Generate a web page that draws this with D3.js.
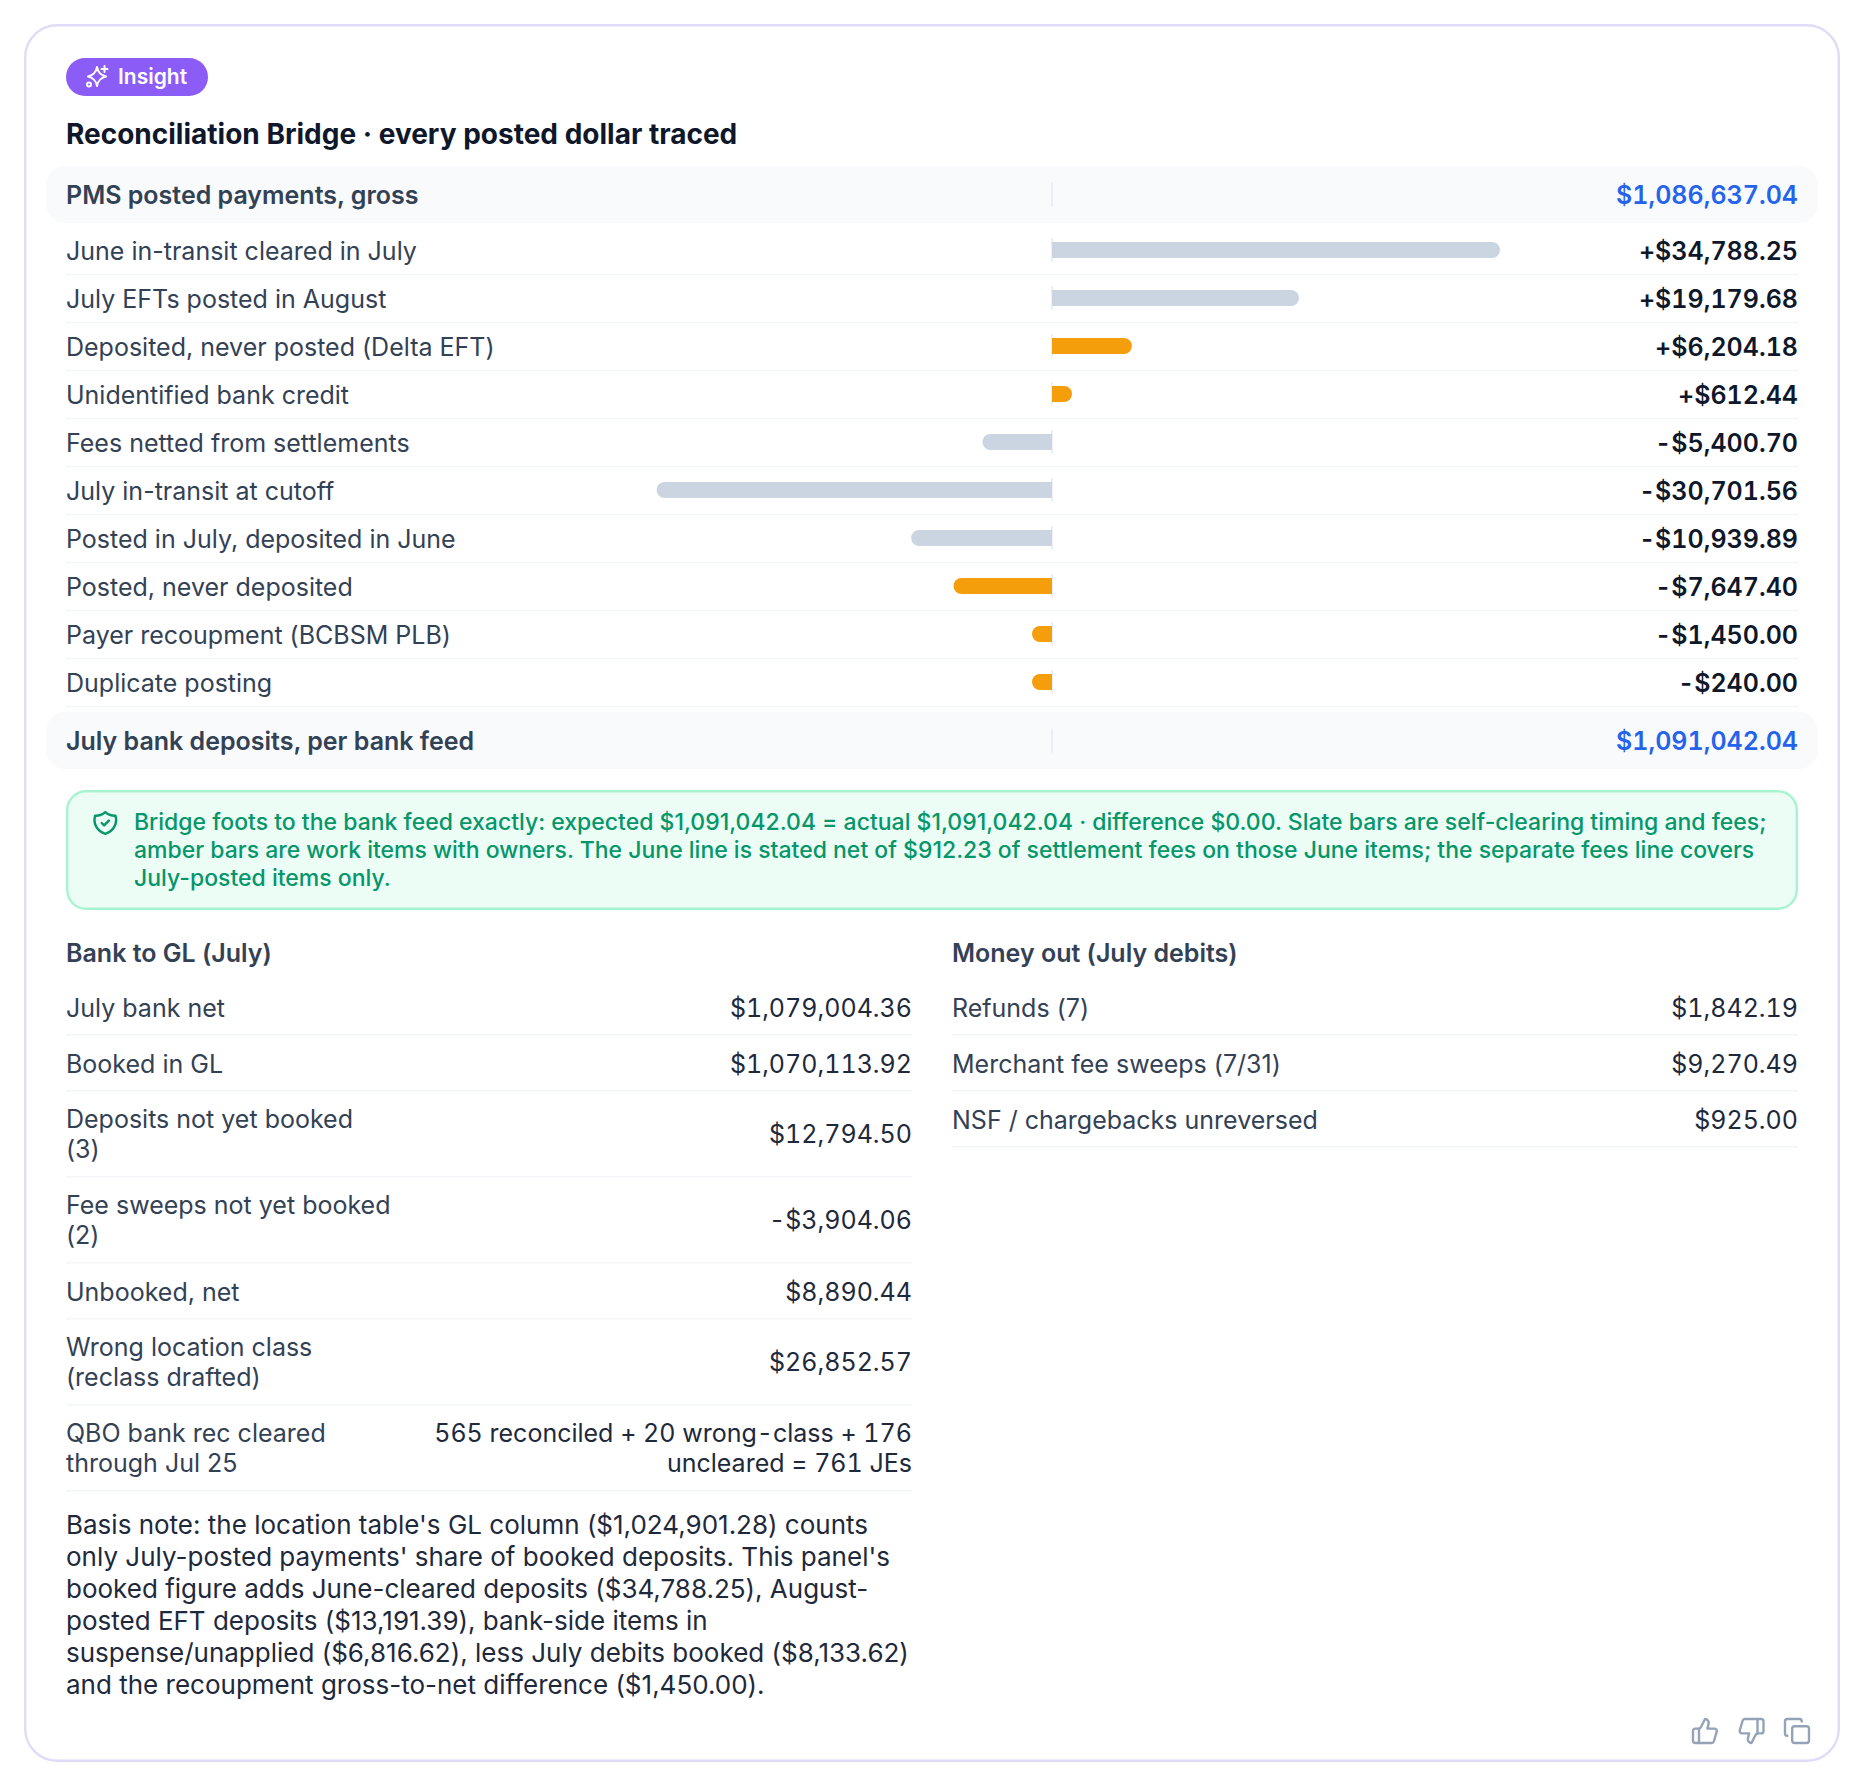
<!DOCTYPE html>
<html><head><meta charset="utf-8">
<script src="https://cdn.jsdelivr.net/npm/d3@7/dist/d3.min.js"></script>
<style>
html,body{margin:0;padding:0;background:#fff}
svg{display:block}
text{font-family:Inter,sans-serif;font-feature-settings:"calt" 0}
.tn{font-variant-numeric:tabular-nums}
</style></head><body>
<div id="chart"></div>
<script>
const badgeText = "Insight";
const titleText = "Reconciliation Bridge · every posted dollar traced";
const startLabel = "PMS posted payments, gross";
const startValue = 1086637.04;
const endLabel = "July bank deposits, per bank feed";
const endValue = 1091042.04;
const bridgeLabels = ["June in-transit cleared in July","July EFTs posted in August","Deposited, never posted (Delta EFT)","Unidentified bank credit","Fees netted from settlements","July in-transit at cutoff","Posted in July, deposited in June","Posted, never deposited","Payer recoupment (BCBSM PLB)","Duplicate posting"];
const bridgeValues = [34788.25,19179.68,6204.18,612.44,-5400.70,-30701.56,-10939.89,-7647.40,-1450.00,-240.00];
const bridgeKinds = ["timing","timing","work","work","timing","timing","timing","work","work","work"];
const noteLines = ["Bridge foots to the bank feed exactly: expected $1,091,042.04 = actual $1,091,042.04 · difference $0.00. Slate bars are self-clearing timing and fees;","amber bars are work items with owners. The June line is stated net of $912.23 of settlement fees on those June items; the separate fees line covers","July-posted items only."];
const leftTitle = "Bank to GL (July)";
const leftLabels = [["July bank net"],["Booked in GL"],["Deposits not yet booked","(3)"],["Fee sweeps not yet booked","(2)"],["Unbooked, net"],["Wrong location class","(reclass drafted)"],["QBO bank rec cleared","through Jul 25"]];
const leftValues = [["$1,079,004.36"],["$1,070,113.92"],["$12,794.50"],["-$3,904.06"],["$8,890.44"],["$26,852.57"],["565 reconciled + 20 wrong-class + 176","uncleared = 761 JEs"]];
const rightTitle = "Money out (July debits)";
const rightLabels = [["Refunds (7)"],["Merchant fee sweeps (7/31)"],["NSF / chargebacks unreversed"]];
const rightValues = [["$1,842.19"],["$9,270.49"],["$925.00"]];
const basisLines = ["Basis note: the location table's GL column ($1,024,901.28) counts","only July-posted payments' share of booked deposits. This panel's","booked figure adds June-cleared deposits ($34,788.25), August-","posted EFT deposits ($13,191.39), bank-side items in","suspense/unapplied ($6,816.62), less July debits booked ($8,133.62)","and the recoupment gross-to-net difference ($1,450.00)."];

const W=1864,H=1786, L=66, R=1798, AX=1052;
const svg=d3.select("#chart").append("svg").attr("width",W).attr("height",H).attr("viewBox",`0 0 ${W} ${H}`);
const FS=25;
function txt(x,y,s,o={}){
  return svg.append("text").attr("x",x).attr("y",y).attr("dy",".3635em").text(s)
    .attr("font-size",o.fs||FS).attr("font-weight",o.w||400).attr("fill",o.c||"#334155")
    .attr("text-anchor",o.a||"start").attr("class",o.tn?"tn":null);
}
// card
svg.append("rect").attr("x",25.2).attr("y",25.2).attr("width",1813.6).attr("height",1735.6).attr("rx",32).attr("fill","#fff").attr("stroke","#e0dcf8").attr("stroke-width",2.4);
// badge
svg.append("rect").attr("x",66).attr("y",58).attr("width",142).attr("height",38).attr("rx",19).attr("fill","#8b5cf6");
const sp=svg.append("g").attr("fill","none").attr("stroke","#fff").attr("stroke-width",2).attr("stroke-linecap","round").attr("stroke-linejoin","round");
sp.append("path").attr("d","M97 67 C98 73 101 75 106 76.5 C101 78 98 80 97 86 C96 80 93 78 88 76.5 C93 75 96 73 97 67Z");
sp.append("path").attr("d","M104.5 66v6M101.5 69h6");
sp.append("circle").attr("cx",89).attr("cy",84.5).attr("r",2);
txt(118,76.5,badgeText,{fs:21,w:600,c:"#fff"});
// title
txt(L,134,titleText,{fs:28,w:700,c:"#0f172a"});

const fmtSigned=v=>d3.format("+$,.2f")(v).replace("\u2212","-");
const fmtTotal=d3.format("$,.2f");
const x=d3.scaleLinear().domain([0,34788.25]).range([0,448]);
const MINW=20, BAR=16, RH=48, TOP=227;
const bandPath=(v,yc)=>{
  const w=Math.max(MINW,x(Math.abs(v))), r=BAR/2, t=yc-r, b=yc+r;
  return v>=0
   ? `M${AX} ${t}H${AX+w-r}A${r} ${r} 0 0 1 ${AX+w-r} ${b}H${AX}Z`
   : `M${AX} ${t}H${AX-w+r}A${r} ${r} 0 0 0 ${AX-w+r} ${b}H${AX}Z`;
};
// header bands
function band(yTop,label,val){
  svg.append("rect").attr("x",46).attr("y",yTop).attr("width",1772).attr("height",57).attr("rx",19).attr("fill","#f8fafc");
  const yc=yTop+28.5;
  svg.append("line").attr("x1",AX).attr("x2",AX).attr("y1",yc-12).attr("y2",yc+12).attr("stroke","#e2e8f0").attr("stroke-width",1.2);
  txt(L,yc+.7,label,{w:600});
  txt(R,yc+.7,fmtTotal(val),{w:600,c:"#2563eb",a:"end",tn:true});
}
band(166,startLabel,startValue);
band(712,endLabel,endValue);
const rows=svg.append("g").selectAll("g").data(bridgeValues).join("g");
rows.each(function(v,i){
  const yc=TOP+i*RH+23, sepY=TOP+(i+1)*RH;
  svg.append("line").attr("x1",L).attr("x2",R).attr("y1",sepY-.4).attr("y2",sepY-.4).attr("stroke","#f1f5f9").attr("stroke-width",1.2);
  svg.append("line").attr("x1",AX).attr("x2",AX).attr("y1",yc-12).attr("y2",yc+12).attr("stroke","#e2e8f0").attr("stroke-width",1.2);
  svg.append("path").attr("d",bandPath(v,yc)).attr("fill",bridgeKinds[i]==="work"?"#f59e0b":"#cbd5e1");
  txt(L,yc+1.4,bridgeLabels[i]);
  txt(R,yc+1.4,fmtSigned(v),{w:600,c:"#0f172a",a:"end",tn:true});
});
// green note
svg.append("rect").attr("x",67.2).attr("y",791.2).attr("width",1729.6).attr("height",117.6).attr("rx",19).attr("fill","#ecfdf5").attr("stroke","#a7f3d0").attr("stroke-width",2.4);
const sh=svg.append("g").attr("transform","translate(90.9,808.6) scale(1.2)").attr("fill","none").attr("stroke","#059669").attr("stroke-width",2).attr("stroke-linecap","round").attr("stroke-linejoin","round");
sh.append("path").attr("d","M12 3a12 12 0 0 0 8.5 3a12 12 0 0 1 -8.5 15a12 12 0 0 1 -8.5 -15a12 12 0 0 0 8.5 -3");
sh.append("path").attr("d","M9 12l2 2l4 -4");
noteLines.forEach((s,i)=>txt(134,821.5+i*28,s,{fs:23,w:500,c:"#059669"}));
// tables
function table(x0,x1,title,labels,values){
  txt(x0,953.2,title,{w:600});
  let top=979.5;
  labels.forEach((lab,i)=>{
    const n=Math.max(lab.length,values[i].length), h=n>1?86:56, lh=30;
    const c=top+h/2-(n>1?.7:0);
    lab.forEach((s,j)=>txt(x0,c+(j-(lab.length-1)/2)*lh,s));
    values[i].forEach((s,j)=>txt(x1,c+(j-(values[i].length-1)/2)*lh,s,{c:"#1e293b",a:"end",tn:true}));
    top+=h;
    svg.append("line").attr("x1",x0).attr("x2",x1).attr("y1",top-.6).attr("y2",top-.6).attr("stroke","#f1f5f9").attr("stroke-width",1.2);
  });
}
table(L,912,leftTitle,leftLabels,leftValues);
table(952,R,rightTitle,rightLabels,rightValues);
basisLines.forEach((s,i)=>txt(L,1525+i*32,s,{fs:26,c:"#1e293b"}));
// action icons
const ic=(cx,draw)=>{const g=svg.append("g").attr("transform",`translate(${cx-14.4},${1731-14.4}) scale(1.2)`).attr("fill","none").attr("stroke","#94a3b8").attr("stroke-width",2).attr("stroke-linecap","round").attr("stroke-linejoin","round");draw(g);};
ic(1705,g=>{g.append("path").attr("d","M7 10v12");g.append("path").attr("d","M15 5.88 14 10h5.83a2 2 0 0 1 1.92 2.56l-2.33 8A2 2 0 0 1 17.5 22H4a2 2 0 0 1-2-2v-8a2 2 0 0 1 2-2h2.76a2 2 0 0 0 1.79-1.11L12 2a3.13 3.13 0 0 1 3 3.88Z");});
ic(1751.5,g=>{g.append("path").attr("d","M17 14V2");g.append("path").attr("d","M9 18.12 10 14H4.17a2 2 0 0 1-1.92-2.56l2.33-8A2 2 0 0 1 6.5 2H20a2 2 0 0 1 2 2v8a2 2 0 0 1-2 2h-2.76a2 2 0 0 0-1.79 1.11L12 22a3.13 3.13 0 0 1-3-3.88Z");});
ic(1797,g=>{g.append("rect").attr("x",8).attr("y",8).attr("width",14).attr("height",14).attr("rx",2);g.append("path").attr("d","M4 16c-1.1 0-2-.9-2-2V4c0-1.1.9-2 2-2h10c1.1 0 2 .9 2 2");});
</script>
</body></html>
